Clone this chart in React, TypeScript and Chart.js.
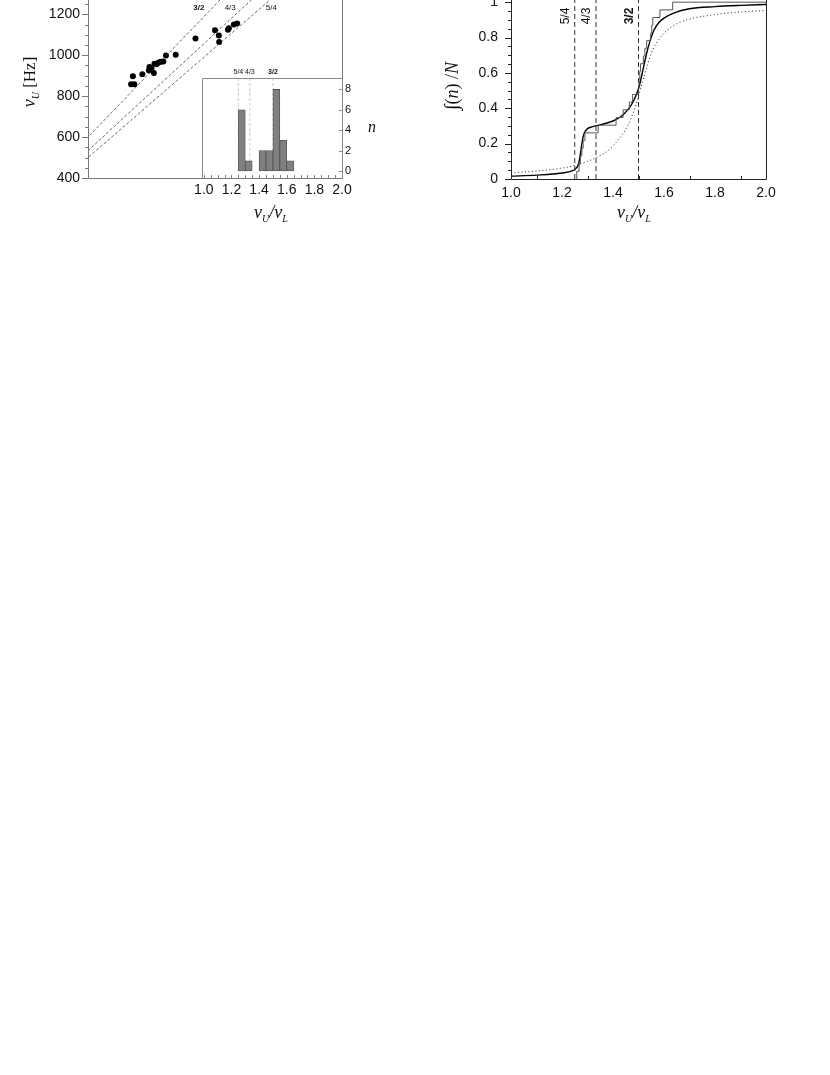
import React, { useEffect, useRef } from 'react';
import { Chart, registerables } from 'chart.js';
Chart.register(...registerables);

// ---------- Left panel: upper vs lower frequency ----------
const lowerHz = [546, 557, 552, 584, 606, 608, 615, 623, 625, 632, 639, 647, 655, 664, 697, 764, 830, 843, 844, 874, 877, 894, 905];
const upperHz = [858, 858, 897, 907, 926, 942, 934, 913, 958, 956, 964, 968, 970, 999, 1003, 1082, 1122, 1097, 1065, 1125, 1132, 1150, 1155];
const ratioLineValues = [1.5, 4 / 3, 1.25];
const ratioLineLabels = ['3/2', '4/3', '5/4'];
const freqTicks = [400, 600, 800, 1000, 1200];

// ---------- Inset histogram ----------
const binCenters = [1.275, 1.325, 1.375, 1.425, 1.475, 1.525, 1.575, 1.625];
const binCounts = [6, 1, 0, 2, 2, 8, 3, 1];
const insetRatioTicks = [1.0, 1.2, 1.4, 1.6, 1.8, 2.0];
const countTicks = [0, 2, 4, 6, 8];

// ---------- Right panel: cumulative distribution ----------
const cdfRatios = [1.258, 1.267, 1.272, 1.278, 1.283, 1.29, 1.342, 1.412, 1.44, 1.464, 1.477, 1.5, 1.502, 1.505, 1.508, 1.519, 1.525, 1.532, 1.548, 1.552, 1.556, 1.584, 1.634];
const fitRatio = [1.0, 1.1, 1.2, 1.24, 1.255, 1.265, 1.272, 1.278, 1.284, 1.292, 1.3, 1.32, 1.35, 1.4, 1.43, 1.46, 1.48, 1.5, 1.515, 1.53, 1.545, 1.56, 1.58, 1.6, 1.64, 1.7, 1.8, 1.9, 2.0];
const fitValue = [0.016, 0.022, 0.034, 0.046, 0.06, 0.085, 0.14, 0.2, 0.245, 0.272, 0.285, 0.296, 0.306, 0.328, 0.352, 0.395, 0.44, 0.51, 0.6, 0.7, 0.78, 0.84, 0.885, 0.91, 0.94, 0.963, 0.975, 0.982, 0.987];
const broadRatio = [1.0, 1.1, 1.2, 1.26, 1.3, 1.34, 1.38, 1.42, 1.45, 1.47, 1.49, 1.51, 1.53, 1.55, 1.58, 1.62, 1.66, 1.7, 1.8, 1.9, 2.0];
const broadValue = [0.035, 0.045, 0.062, 0.08, 0.1, 0.125, 0.16, 0.22, 0.28, 0.34, 0.42, 0.52, 0.62, 0.71, 0.79, 0.85, 0.885, 0.905, 0.93, 0.945, 0.953];
const intervalRatios = [1.25, 4 / 3, 1.5];
const intervalLabels = ['5/4', '4/3', '3/2'];
const cdfXTicks = [1.0, 1.2, 1.4, 1.6, 1.8, 2.0];
const cdfYTicks = [0, 0.2, 0.4, 0.6, 0.8, 1];

const SANS = '"Liberation Sans", Arial, sans-serif';
const SERIF = '"Liberation Serif", "Times New Roman", serif';

function steps(a: number, b: number, st: number): number[] {
  const out: number[] = [];
  for (let v = a; v <= b + 1e-9; v += st) out.push(Math.round(v * 1e6) / 1e6);
  return out;
}

type Run = { t: string; f: string; dy?: number };
function drawRuns(ctx: CanvasRenderingContext2D, runs: Run[], cx: number, cy: number, rot = 0, color = '#111') {
  ctx.save();
  ctx.translate(cx, cy);
  if (rot) ctx.rotate(rot);
  ctx.fillStyle = color;
  ctx.textBaseline = 'alphabetic';
  ctx.textAlign = 'left';
  let total = 0;
  for (const r of runs) { ctx.font = r.f; total += ctx.measureText(r.t).width; }
  let x = -total / 2;
  for (const r of runs) {
    ctx.font = r.f;
    ctx.fillText(r.t, x, r.dy || 0);
    x += ctx.measureText(r.t).width;
  }
  ctx.restore();
}

type TickSpec = { scale: string; side: 'left' | 'right' | 'bottom' | 'top'; values: number[]; out: number; inn: number; color: string };
function drawTicks(chart: any, specs: TickSpec[]) {
  const ctx: CanvasRenderingContext2D = chart.ctx;
  const a = chart.chartArea;
  ctx.save();
  ctx.lineWidth = 1;
  for (const s of specs) {
    const sc = chart.scales[s.scale];
    ctx.strokeStyle = s.color;
    for (const v of s.values) {
      const p = Math.round(sc.getPixelForValue(v)) + 0.5;
      ctx.beginPath();
      if (s.side === 'left') { ctx.moveTo(a.left - s.out, p); ctx.lineTo(a.left + s.inn, p); }
      if (s.side === 'right') { ctx.moveTo(a.right + s.out, p); ctx.lineTo(a.right - s.inn, p); }
      if (s.side === 'bottom') { ctx.moveTo(p, a.bottom + s.out); ctx.lineTo(p, a.bottom - s.inn); }
      if (s.side === 'top') { ctx.moveTo(p, a.top - s.out); ctx.lineTo(p, a.top + s.inn); }
      ctx.stroke();
    }
  }
  ctx.restore();
}

function drawFrame(chart: any, sides: string[], color: string, width = 1) {
  const ctx: CanvasRenderingContext2D = chart.ctx;
  const a = chart.chartArea;
  const l = Math.round(a.left) + 0.5, r = Math.round(a.right) + 0.5, t = Math.round(a.top) + 0.5, b = Math.round(a.bottom) + 0.5;
  ctx.save();
  ctx.strokeStyle = color;
  ctx.lineWidth = width;
  ctx.beginPath();
  if (sides.includes('left')) { ctx.moveTo(l, t); ctx.lineTo(l, b); }
  if (sides.includes('bottom')) { ctx.moveTo(l, b); ctx.lineTo(r, b); }
  if (sides.includes('right')) { ctx.moveTo(r, t); ctx.lineTo(r, b); }
  if (sides.includes('top')) { ctx.moveTo(l, t); ctx.lineTo(r, t); }
  ctx.stroke();
  ctx.restore();
}

const nuRatioRuns: Run[] = [
  { t: 'ν', f: `italic 18px ${SERIF}` },
  { t: 'U', f: `italic 10px ${SERIF}`, dy: 4 },
  { t: '/', f: `italic 18px ${SERIF}` },
  { t: 'ν', f: `italic 18px ${SERIF}` },
  { t: 'L', f: `italic 10px ${SERIF}`, dy: 4 },
];

function LeftPanel() {
  const ref = useRef<HTMLCanvasElement>(null);
  useEffect(() => {
    const lineSets = ratioLineValues.map((r) => ({
      type: 'line' as const,
      data: [{ x: 300, y: 300 * r }, { x: 1400, y: 1400 * r }],
      borderColor: '#444',
      borderWidth: 0.8,
      borderDash: [3, 2],
      pointRadius: 0,
      showLine: true,
      fill: false,
    }));
    const chart = new Chart(ref.current!, {
      type: 'scatter',
      data: {
        datasets: [
          ...lineSets,
          {
            data: lowerHz.map((x, i) => ({ x, y: upperHz[i] })),
            pointRadius: 3,
            pointBackgroundColor: '#000',
            pointBorderWidth: 0,
            borderColor: '#000',
          } as any,
        ],
      },
      options: {
        responsive: false,
        animation: false,
        events: [],
        layout: { padding: { top: 20, right: 38, left: 0, bottom: 0 } },
        plugins: { legend: { display: false }, tooltip: { enabled: false } },
        scales: {
          x: {
            type: 'linear', min: 400, max: 1260,
            ticks: { display: false },
            grid: { display: false, drawTicks: false },
            border: { display: false },
            afterFit: (s: any) => { s.height = 52; },
          },
          y: {
            type: 'linear', min: 400, max: 1319,
            ticks: { font: { family: SANS, size: 14 }, color: '#111', padding: 8, callback: (v: any) => String(v) },
            afterBuildTicks: (s: any) => { s.ticks = freqTicks.map((v) => ({ value: v })); },
            grid: { display: false, drawTicks: false },
            border: { display: false },
            afterFit: (s: any) => { s.width = 88; },
          },
        },
      },
      plugins: [
        {
          id: 'leftDecor',
          afterDraw(c: any) {
            drawFrame(c, ['left', 'bottom', 'right'], '#777');
            drawTicks(c, [
              { scale: 'y', side: 'left', values: freqTicks, out: 6, inn: 0, color: '#777' },
              { scale: 'y', side: 'left', values: steps(400, 1300, 50).filter((v) => v % 200 !== 0), out: 3, inn: 0, color: '#777' },
            ]);
            const ctx: CanvasRenderingContext2D = c.ctx;
            const ys = c.scales.y, xs = c.scales.x;
            const labelLevel = 1234;
            const dxs = [-14, -13, 10];
            ratioLineValues.forEach((r, i) => {
              const px = xs.getPixelForValue(labelLevel / r) + dxs[i];
              const py = ys.getPixelForValue(labelLevel);
              ctx.save();
              ctx.font = `${i === 0 ? 'bold ' : ''}8px ${SANS}`;
              ctx.fillStyle = '#111';
              ctx.textAlign = 'center';
              ctx.textBaseline = 'middle';
              ctx.fillText(ratioLineLabels[i], px, py);
              ctx.restore();
            });
            drawRuns(ctx, [
              { t: 'ν', f: `italic 18px ${SERIF}` },
              { t: 'U', f: `italic 10px ${SERIF}`, dy: 4 },
              { t: ' [Hz]', f: `17px ${SERIF}` },
            ], 35, 112, -Math.PI / 2);
            drawRuns(ctx, nuRatioRuns, 271, 248);
          },
        },
      ],
    } as any);
    return () => chart.destroy();
  }, []);
  return <canvas ref={ref} width={380} height={260} style={{ position: 'absolute', left: 0, top: -30 }} />;
}

function InsetPanel() {
  const ref = useRef<HTMLCanvasElement>(null);
  useEffect(() => {
    const guideSets = intervalRatios.map((r) => ({
      type: 'line' as const,
      data: [{ x: r, y: 0 }, { x: r, y: 10 }],
      borderColor: '#bbb',
      borderWidth: 0.8,
      borderDash: [3, 2],
      pointRadius: 0,
      fill: false,
      order: 5,
    }));
    const chart = new Chart(ref.current!, {
      type: 'bar',
      data: {
        datasets: [
          {
            type: 'bar',
            data: binCenters.map((x, i) => ({ x, y: binCounts[i] })),
            backgroundColor: '#808080',
            borderColor: '#505050',
            borderWidth: 0.8,
            borderSkipped: false,
            barPercentage: 1,
            categoryPercentage: 1,
            order: 1,
          } as any,
          ...guideSets,
        ],
      },
      options: {
        responsive: false,
        animation: false,
        events: [],
        layout: { padding: { top: 18, left: 10, right: 0, bottom: 0 } },
        plugins: { legend: { display: false }, tooltip: { enabled: false } },
        scales: {
          x: {
            type: 'linear', min: 0.99, max: 2.0, offset: false,
            ticks: { font: { family: SANS, size: 14 }, color: '#111', padding: 4, maxRotation: 0, callback: (v: any) => Number(v).toFixed(1) },
            afterBuildTicks: (s: any) => { s.ticks = insetRatioTicks.map((v) => ({ value: v })); },
            grid: { display: false, drawTicks: false },
            border: { display: false },
            afterFit: (s: any) => { s.height = 32; },
          },
          y: {
            type: 'linear', position: 'right', min: -0.69, max: 9.12,
            ticks: { font: { family: SANS, size: 11 }, color: '#111', padding: 3, callback: (v: any) => String(v) },
            afterBuildTicks: (s: any) => { s.ticks = countTicks.map((v) => ({ value: v })); },
            grid: { display: false, drawTicks: false },
            border: { display: false },
            afterFit: (s: any) => { s.width = 38; },
          },
        },
      },
      plugins: [
        {
          id: 'insetDecor',
          afterDraw(c: any) {
            drawFrame(c, ['left', 'top', 'right'], '#888');
            drawTicks(c, [
              { scale: 'x', side: 'bottom', values: steps(1.0, 2.0, 0.05), out: 0, inn: 3, color: '#888' },
              { scale: 'y', side: 'right', values: countTicks, out: 0, inn: 3, color: '#888' },
            ]);
            const ctx: CanvasRenderingContext2D = c.ctx;
            const xs = c.scales.x;
            intervalRatios.forEach((r, i) => {
              ctx.save();
              ctx.font = `${i === 2 ? 'bold ' : ''}7px ${SANS}`;
              ctx.fillStyle = '#111';
              ctx.textAlign = 'center';
              ctx.textBaseline = 'middle';
              ctx.fillText(intervalLabels[i], xs.getPixelForValue(r), c.chartArea.top - 6);
              ctx.restore();
            });
            drawRuns(ctx, [{ t: 'n', f: `italic 16px ${SERIF}` }], 182, 72);
          },
        },
      ],
    } as any);
    return () => chart.destroy();
  }, []);
  return <canvas ref={ref} width={190} height={150} style={{ position: 'absolute', left: 190, top: 60 }} />;
}

function RightPanel() {
  const ref = useRef<HTMLCanvasElement>(null);
  useEffect(() => {
    const N = cdfRatios.length;
    const stairs = [{ x: cdfRatios[0], y: 0 }, ...cdfRatios.map((r, i) => ({ x: r, y: (i + 1) / N })), { x: 2.0, y: 1 }];
    const guideSets = intervalRatios.map((r) => ({
      data: [{ x: r, y: 0 }, { x: r, y: 1.2 }],
      borderColor: '#333',
      borderWidth: 1,
      borderDash: [5, 3],
      pointRadius: 0,
      showLine: true,
      fill: false,
    }));
    const chart = new Chart(ref.current!, {
      type: 'scatter',
      data: {
        datasets: [
          ...guideSets,
          {
            data: broadRatio.map((x, i) => ({ x, y: broadValue[i] })),
            borderColor: '#222', borderWidth: 1, borderDash: [1, 2.5], pointRadius: 0, showLine: true, fill: false,
            cubicInterpolationMode: 'monotone',
          },
          {
            data: stairs,
            borderColor: '#555', borderWidth: 1, pointRadius: 0, showLine: true, fill: false, stepped: 'before',
          },
          {
            data: fitRatio.map((x, i) => ({ x, y: fitValue[i] })),
            borderColor: '#000', borderWidth: 1.4, pointRadius: 0, showLine: true, fill: false,
            cubicInterpolationMode: 'monotone',
          },
        ] as any,
      },
      options: {
        responsive: false,
        animation: false,
        events: [],
        layout: { padding: { top: 18, right: 64, left: 0, bottom: 0 } },
        plugins: { legend: { display: false }, tooltip: { enabled: false } },
        scales: {
          x: {
            type: 'linear', min: 1, max: 2,
            ticks: { font: { family: SANS, size: 14 }, color: '#111', padding: 6, maxRotation: 0, callback: (v: any) => Number(v).toFixed(1) },
            afterBuildTicks: (s: any) => { s.ticks = cdfXTicks.map((v) => ({ value: v })); },
            grid: { display: false, drawTicks: false },
            border: { display: false },
            afterFit: (s: any) => { s.height = 51; },
          },
          y: {
            type: 'linear', min: 0, max: 1.061,
            ticks: {
              font: { family: SANS, size: 14 }, color: '#111', padding: 13,
              callback: (v: any) => (v === 0 ? '0' : v === 1 ? '1' : Number(v).toFixed(1)),
            },
            afterBuildTicks: (s: any) => { s.ticks = cdfYTicks.map((v) => ({ value: v })); },
            grid: { display: false, drawTicks: false },
            border: { display: false },
            afterFit: (s: any) => { s.width = 131; },
          },
        },
      },
      plugins: [
        {
          id: 'rightDecor',
          afterDraw(c: any) {
            drawFrame(c, ['left', 'bottom', 'right'], '#222');
            drawTicks(c, [
              { scale: 'y', side: 'left', values: cdfYTicks, out: 6, inn: 0, color: '#222' },
              { scale: 'y', side: 'left', values: steps(0, 1.05, 0.05).filter((v) => Math.abs(v * 5 - Math.round(v * 5)) > 1e-6), out: 3, inn: 0, color: '#222' },
              { scale: 'x', side: 'bottom', values: steps(1.1, 1.9, 0.2), out: 0, inn: 3, color: '#222' },
            ]);
            const ctx: CanvasRenderingContext2D = c.ctx;
            const xs = c.scales.x;
            intervalRatios.forEach((r, i) => {
              ctx.save();
              ctx.translate(xs.getPixelForValue(r) - 9, 46);
              ctx.rotate(-Math.PI / 2);
              ctx.font = `${i === 2 ? 'bold ' : ''}12px ${SANS}`;
              ctx.fillStyle = '#111';
              ctx.textAlign = 'center';
              ctx.textBaseline = 'middle';
              ctx.fillText(intervalLabels[i], 0, 0);
              ctx.restore();
            });
            drawRuns(ctx, [
              { t: '∫', f: `20px ${SERIF}` },
              { t: '(', f: `18px ${SERIF}` },
              { t: 'n', f: `italic 18px ${SERIF}` },
              { t: ')', f: `18px ${SERIF}` },
              { t: ' /', f: `18px ${SERIF}` },
              { t: 'N', f: `italic 18px ${SERIF}` },
            ], 78, 116, -Math.PI / 2);
            drawRuns(ctx, nuRatioRuns, 254, 248);
          },
        },
      ],
    } as any);
    return () => chart.destroy();
  }, []);
  return <canvas ref={ref} width={450} height={260} style={{ position: 'absolute', left: 380, top: -30 }} />;
}

export default function App() {
  return (
    <div>
      <LeftPanel />
      <InsetPanel />
      <RightPanel />
    </div>
  );
}
